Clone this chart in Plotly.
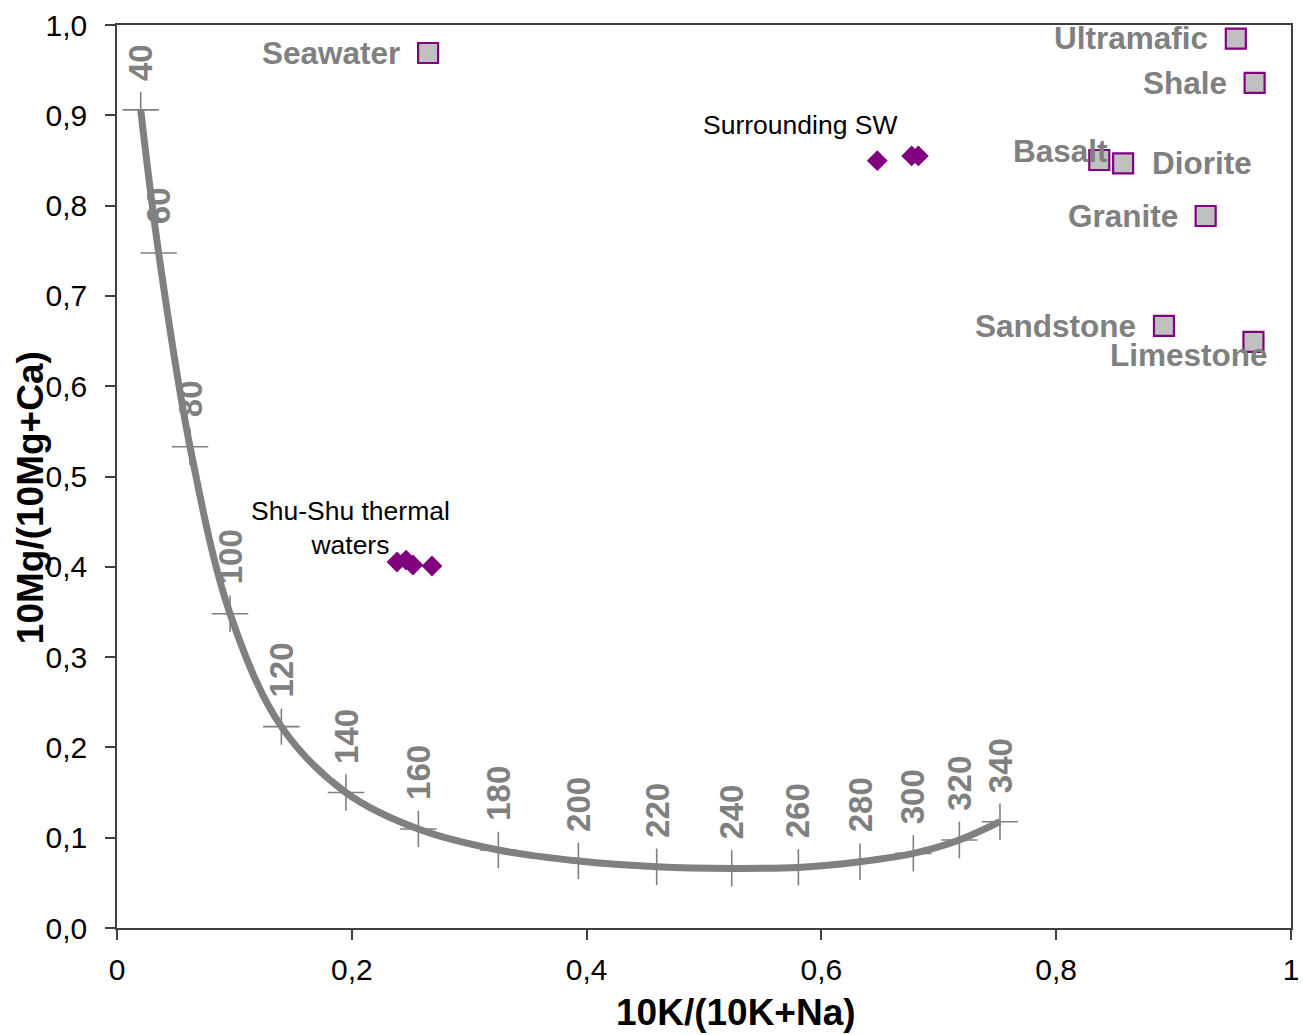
import plotly.graph_objects as go

# ---- data ----
temps = [40, 60, 80, 100, 120, 140, 160, 180, 200, 220, 240, 260, 280, 300, 320, 340]
curve_x = [0.0202, 0.0355, 0.0622, 0.0963, 0.1400, 0.1950, 0.2567, 0.3248,
           0.3930, 0.4597, 0.5236, 0.5804, 0.6329, 0.6783, 0.7175, 0.7521]
curve_y = [0.906, 0.7475, 0.533, 0.348, 0.223, 0.150, 0.1096, 0.0864,
           0.0742, 0.0679, 0.0660, 0.0671, 0.0734, 0.0826, 0.0975, 0.1177]

rock_names = ["Seawater", "Ultramafic", "Shale", "Basalt", "Diorite",
              "Granite", "Sandstone", "Limestone"]
rock_x = [0.265, 0.953, 0.969, 0.8367, 0.857, 0.9273, 0.8918, 0.968]
rock_y = [0.969, 0.985, 0.936, 0.8505, 0.8468, 0.7885, 0.6667, 0.649]

shushu_x = [0.2385, 0.2462, 0.2521, 0.2683]
shushu_y = [0.4053, 0.4075, 0.4020, 0.4009]

sw_x = [0.6476, 0.6769, 0.6826]
sw_y = [0.8497, 0.8550, 0.8550]

x_ticks = [0, 0.2, 0.4, 0.6, 0.8, 1.0]
x_ticktext = ["0", "0,2", "0,4", "0,6", "0,8", "1"]
y_ticks = [0, 0.1, 0.2, 0.3, 0.4, 0.5, 0.6, 0.7, 0.8, 0.9, 1.0]
y_ticktext = ["0,0", "0,1", "0,2", "0,3", "0,4", "0,5", "0,6", "0,7", "0,8", "0,9", "1,0"]

# ---- styles ----
FONT = "Arial, Liberation Sans, sans-serif"
GRAY = "#808080"
PURPLE = "#800080"
AXIS = "#404040"

# label placement (pixel shifts relative to marker) for rock labels
rock_label_style = {
    "Seawater": dict(xanchor="right", xshift=-26, yshift=0),
    "Ultramafic": dict(xanchor="right", xshift=-26, yshift=1),
    "Shale": dict(xanchor="right", xshift=-26, yshift=0),
    "Basalt": dict(xanchor="right", xshift=11, yshift=9),
    "Diorite": dict(xanchor="left", xshift=27, yshift=0),
    "Granite": dict(xanchor="right", xshift=-26, yshift=0),
    "Sandstone": dict(xanchor="right", xshift=-26, yshift=0),
    "Limestone": dict(xanchor="center", xshift=-64, yshift=-13),
}

fig = go.Figure()

# geothermometer curve
fig.add_trace(go.Scatter(
    x=curve_x, y=curve_y, mode="lines",
    line=dict(color=GRAY, width=7, shape="spline", smoothing=1.0),
    hoverinfo="skip", showlegend=False))
fig.add_trace(go.Scatter(
    x=curve_x, y=curve_y, mode="markers",
    marker=dict(symbol="cross-thin", size=26, line=dict(color=GRAY, width=1.6)),
    showlegend=False))

# rocks
fig.add_trace(go.Scatter(
    x=rock_x, y=rock_y, mode="markers",
    marker=dict(symbol="square", size=20, color="#C0C0C0",
                line=dict(color=PURPLE, width=2.2)),
    showlegend=False))

# waters
fig.add_trace(go.Scatter(
    x=shushu_x, y=shushu_y, mode="markers",
    marker=dict(symbol="diamond", size=16, color=PURPLE),
    showlegend=False))
fig.add_trace(go.Scatter(
    x=sw_x, y=sw_y, mode="markers",
    marker=dict(symbol="diamond", size=16, color=PURPLE),
    showlegend=False))

annotations = []
# temperature labels
for t, x, y in zip(temps, curve_x, curve_y):
    annotations.append(dict(
        x=x, y=y, xref="x", yref="y", text=f"<b>{t}</b>", showarrow=False,
        textangle=-90, xanchor="center", yanchor="bottom", yshift=27,
        font=dict(family=FONT, size=33, color=GRAY)))

# rock labels
for n, x, y in zip(rock_names, rock_x, rock_y):
    st = rock_label_style[n]
    annotations.append(dict(
        x=x, y=y, xref="x", yref="y", text=f"<b>{n}</b>", showarrow=False,
        yanchor="middle", font=dict(family=FONT, size=31.5, color=GRAY), **st))

# water group labels
annotations.append(dict(
    x=0.1985, y=0.443, xref="x", yref="y",
    text="Shu-Shu thermal<br>waters", showarrow=False,
    xanchor="center", yanchor="middle", align="center",
    font=dict(family=FONT, size=26.5, color="black")))
annotations.append(dict(
    x=0.5818, y=0.889, xref="x", yref="y",
    text="Surrounding SW", showarrow=False,
    xanchor="center", yanchor="middle",
    font=dict(family=FONT, size=26.5, color="black")))

# axis titles
annotations.append(dict(
    x=0.5275, y=0, xref="paper", yref="paper", yshift=-84,
    text="<b>10K/(10K+Na)</b>", showarrow=False,
    xanchor="center", yanchor="middle",
    font=dict(family=FONT, size=37, color="black")))
annotations.append(dict(
    x=0, y=0.476, xref="paper", yref="paper", xshift=-87,
    text="<b>10Mg/(10Mg+Ca)</b>", showarrow=False, textangle=-90,
    xanchor="center", yanchor="middle",
    font=dict(family=FONT, size=37, color="black")))

fig.update_layout(
    width=1303, height=1035,
    margin=dict(l=117, r=12, t=25, b=107),
    paper_bgcolor="white", plot_bgcolor="white",
    showlegend=False,
    annotations=annotations,
    font=dict(family=FONT, color="black"),
)
fig.update_xaxes(
    range=[0, 1], tickvals=x_ticks, ticktext=x_ticktext, automargin=False,
    showgrid=False, zeroline=False,
    showline=True, linecolor=AXIS, linewidth=1.5, mirror=True,
    ticks="outside", ticklen=10, tickwidth=1.5, tickcolor=AXIS,
    tickfont=dict(family=FONT, size=30, color="black"),
    ticklabelstandoff=4,
)
fig.update_yaxes(
    range=[0, 1], tickvals=y_ticks, ticktext=y_ticktext, automargin=False,
    showgrid=False, zeroline=False,
    showline=True, linecolor=AXIS, linewidth=1.5, mirror=True,
    ticks="outside", ticklen=10, tickwidth=1.5, tickcolor=AXIS,
    tickfont=dict(family=FONT, size=30, color="black"),
    ticklabelstandoff=12,
)

fig.write_html("out.html")
